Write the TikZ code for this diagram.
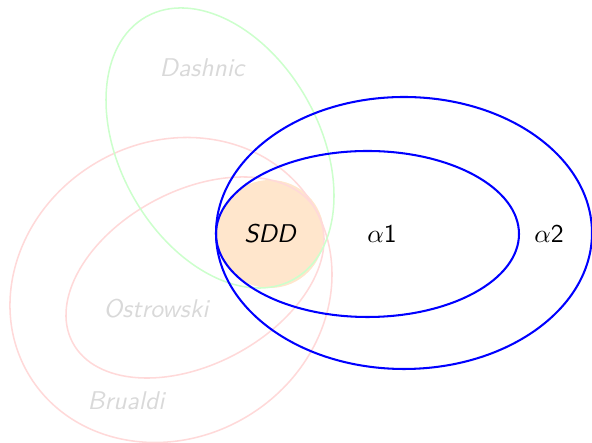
\documentclass[tikz,border=0pt]{standalone}
\usepackage{tikz}
\usetikzlibrary{positioning}
\definecolor{setpink}{HTML}{FFD9D9}
\definecolor{setgreen}{HTML}{CCFFCC}
\definecolor{sddfill}{HTML}{FFE6CC}
\definecolor{setlabel}{HTML}{D9D9D9}
\tikzset{
  classline/.style={draw=#1, semithick},
  alphaline/.style={draw=blue, thick},
  classname/.style={font=\sffamily\itshape, text=setlabel, anchor=base, inner sep=0pt},
  alphaname/.style={font=\sffamily, anchor=base, inner sep=0pt},
}

\begin{document}
\begin{tikzpicture}[x=0.39pt, y=0.39pt]
  \useasboundingbox (0,0) rectangle (592,-443);
  \coordinate (brualdic) at (171,-290);
  \coordinate (ostrowskic) at (195,-277.5);
  \coordinate (dashnicc) at (220,-148);
  \coordinate (sddc) at (270,-234);
  \coordinate (aonec) at (367.5,-234);
  \coordinate (atwoc) at (404,-233);
  \fill[sddfill] (sddc) circle [radius=54];
  % pink and green classes
  \draw[classline=setpink, rotate around={30.8:(brualdic)}] (brualdic) ellipse [x radius=165.5, y radius=147.6];
  \draw[classline=setpink, rotate around={28:(ostrowskic)}] (ostrowskic) ellipse [x radius=138.6, y radius=86.8];
  \draw[classline=setgreen, rotate around={-60.6:(dashnicc)}] (dashnicc) ellipse [x radius=150.6, y radius=99.6];
  % alpha classes
  \draw[alphaline] (aonec) ellipse [x radius=151.5, y radius=83];
  \draw[alphaline] (atwoc) ellipse [x radius=188, y radius=136];
  \node[classname] (dashnic) at (202,-77) {Dashnic};
  \node[classname] (ostrowski) at (156,-318) {Ostrowski};
  \node[classname] (brualdi) at (126,-410) {Brualdi};
  \node[font=\sffamily\itshape, anchor=base, inner sep=0pt] (sdd) at (270,-243) {SDD};
  \node[alphaname] (alphaone) at (382,-243) {$\alpha$1};
  \node[alphaname] (alphatwo) at (549,-243) {$\alpha$2};
\end{tikzpicture}
\end{document}
